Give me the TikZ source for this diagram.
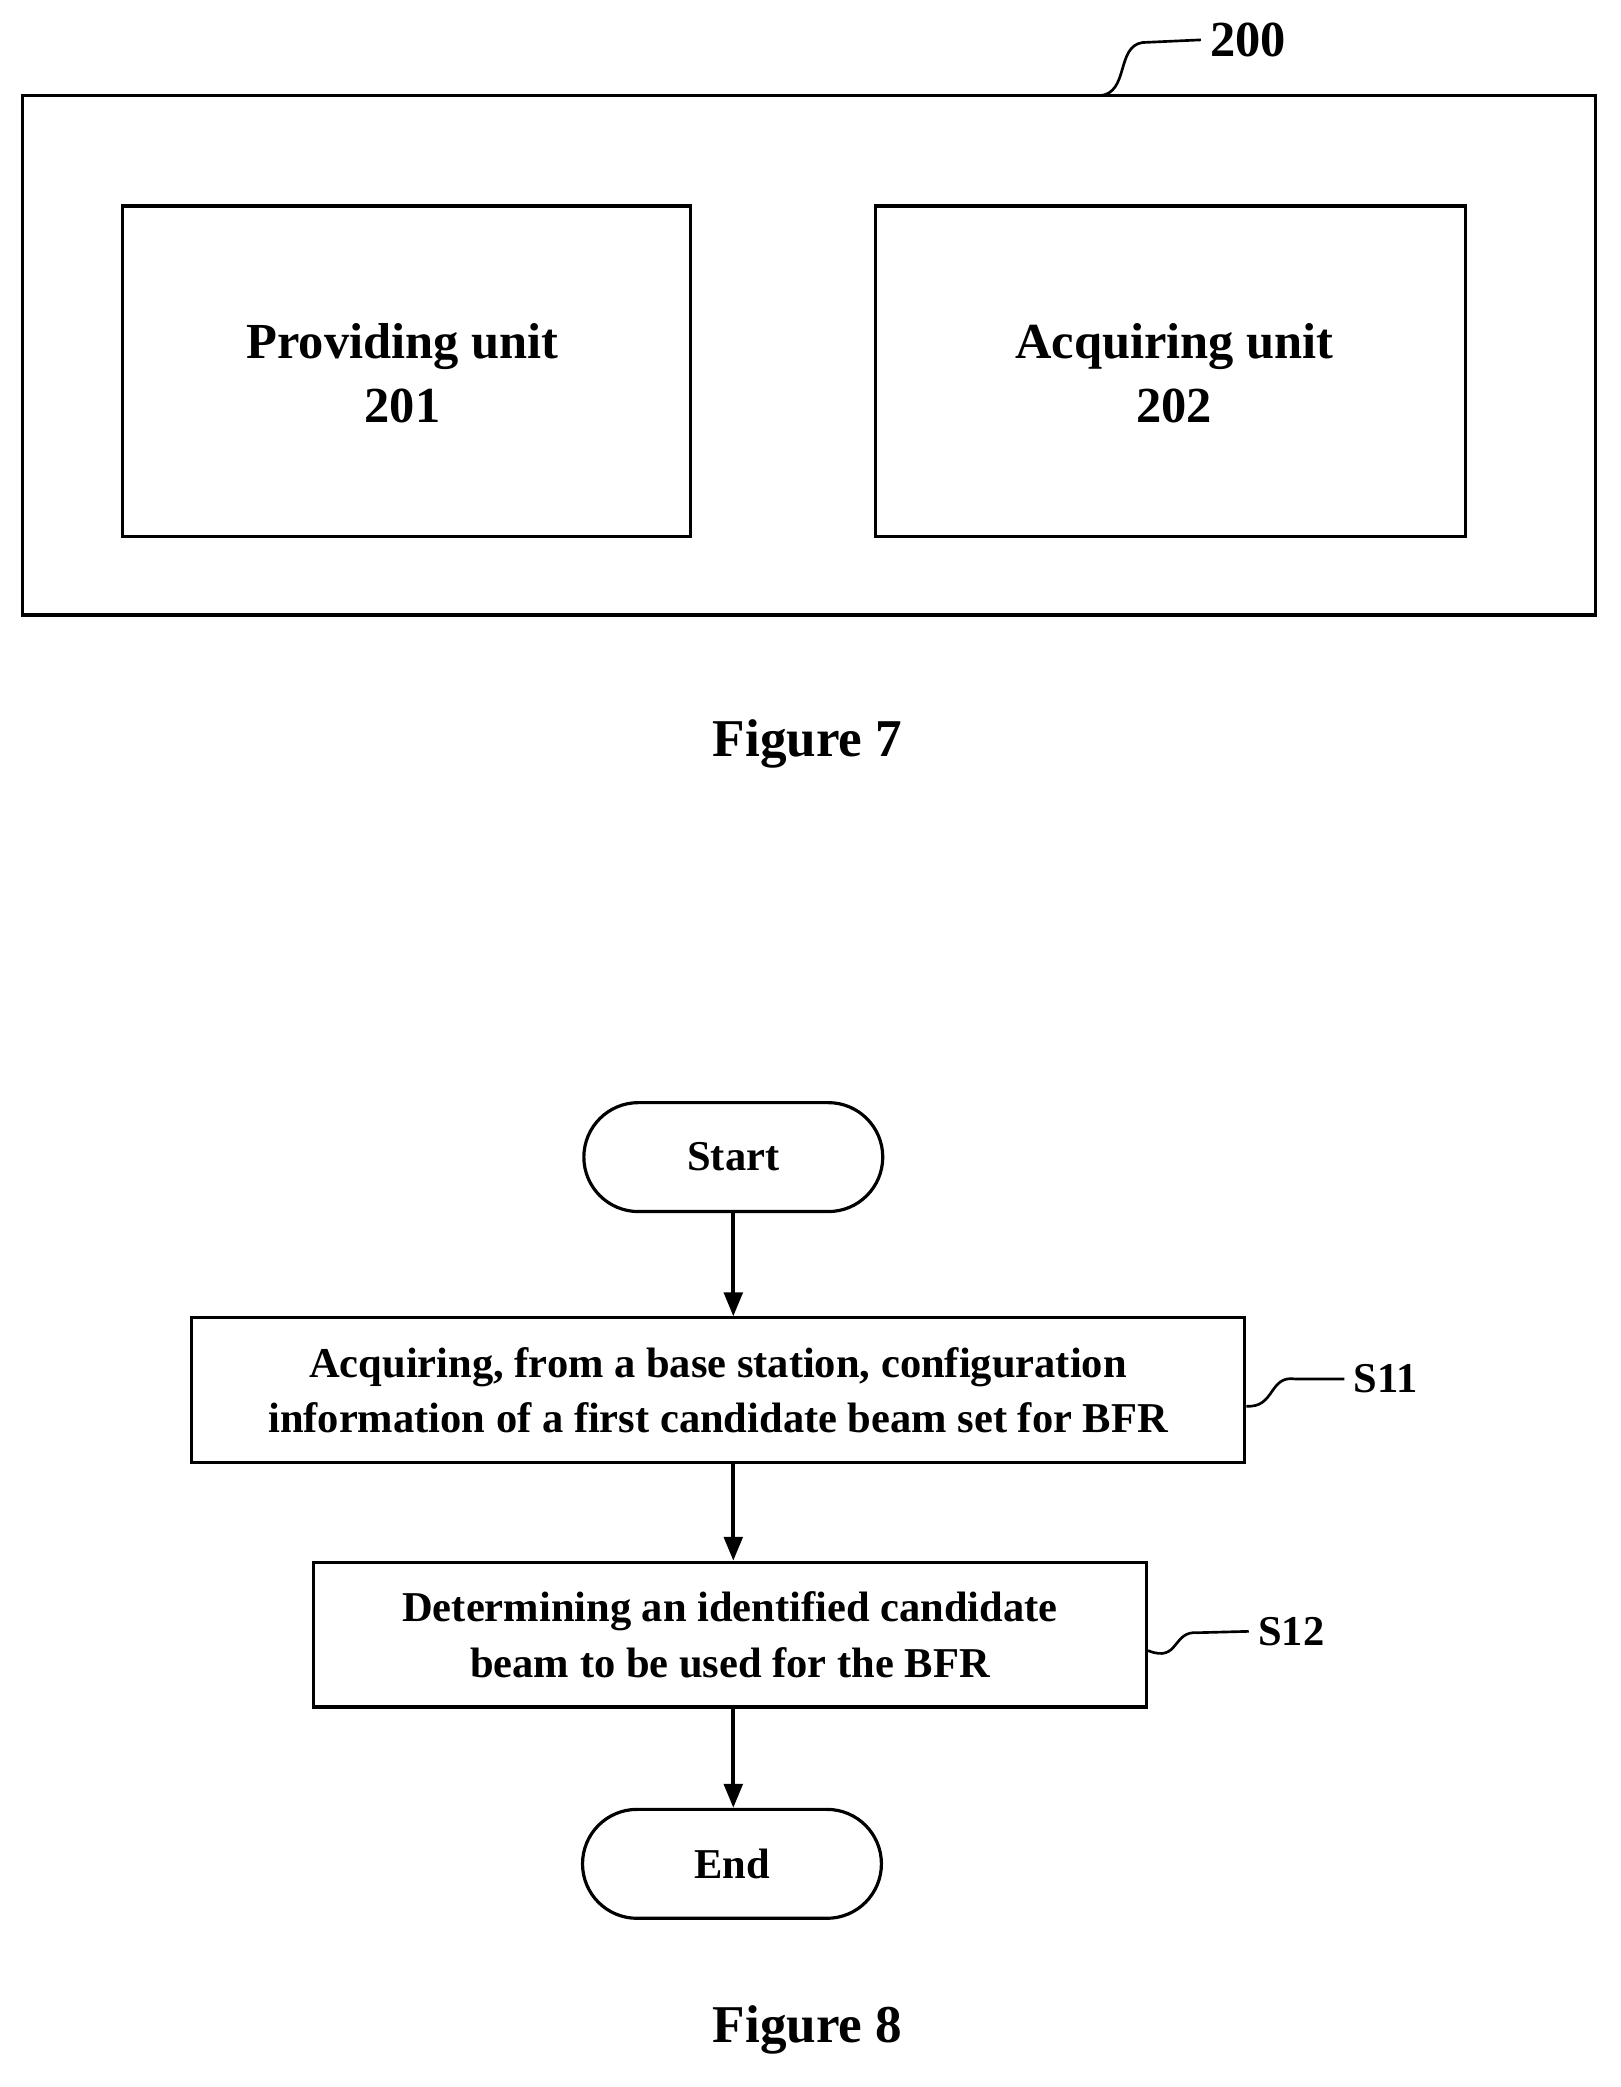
\documentclass[tikz,border=0pt]{standalone}
\usepackage{fontspec}
\setmainfont{Liberation Serif}
\usetikzlibrary{positioning,arrows.meta}
\begin{document}
\begin{tikzpicture}[x=0.5pt,y=-0.5pt,
	box/.style={draw=black, line width=1.2pt},
	txt/.style={font=\fontsize{19}{24}\selectfont\bfseries, align=center},
	steptxt/.style={font=\fontsize{16}{21}\selectfont\bfseries, align=center},
	pill/.style={draw=black, line width=1.2pt, rounded corners=20.5pt, minimum width=112.5pt, minimum height=41pt, font=\fontsize{16}{21}\selectfont\bfseries},
	arr/.style={-{Triangle[length=9pt,width=7pt]}, line width=1.4pt}]
	
	%Background
	\useasboundingbox (0,0) rectangle (1220,1571);
	
	%Figure 7
	\draw[box] (17,72) rectangle (1201,463);
	\draw[box] (92,155) rectangle (520,404);
	\draw[box] (659,155) rectangle (1103,404);
	\node[txt] (prov) at (303,281) {Providing unit\\201};
	\node[txt] (acq) at (884,281) {Acquiring unit\\202};
	\coordinate (dev) at (828,72);
	\node[txt, anchor=west] (dlbl) at (904,30) {200};
	\draw[line width=1pt] (dev) .. controls (850,70) and (840,35) .. (860,32) -- (dlbl.west);
	\node[font=\fontsize{20}{24}\selectfont\bfseries] (fig7) at (608,560) {Figure 7};
	
	%Figure 8
	\node[pill] (start) at (552,871) {Start};
	\node[box, steptxt, minimum width=396.5pt, minimum height=54.5pt] (s11) at (540.5,1046.5)
		{Acquiring, from a base station, configuration\\information of a first candidate beam set for BFR};
	\node[box, steptxt, minimum width=313.5pt, minimum height=54.5pt] (s12) at (549.5,1230.5)
		{Determining an identified candidate\\beam to be used for the BFR};
	\node[pill] (end) at (551,1403) {End};
	\draw[arr] (start) -- (start|-s11.north);
	\draw[arr] (s11.south-|start) -- (s12.north-|start);
	\draw[arr] (s12.south-|start) -- (end.north-|start);
	
	%Labels
	\node[steptxt, anchor=west] (l11) at (1012,1038) {S11};
	\node[steptxt, anchor=west] (l12) at (940,1228) {S12};
	\draw[line width=1pt] (s11.east)+(0,12) .. controls (960,1060) and (955,1035) .. (975,1038) -- (l11.west);
	\draw[line width=1pt] (s12.east)+(0,12) .. controls (888,1252) and (882,1227) .. (902,1229) -- (l12.west);
	\node[font=\fontsize{20}{24}\selectfont\bfseries] (fig8) at (608,1528) {Figure 8};
\end{tikzpicture}
\end{document}
